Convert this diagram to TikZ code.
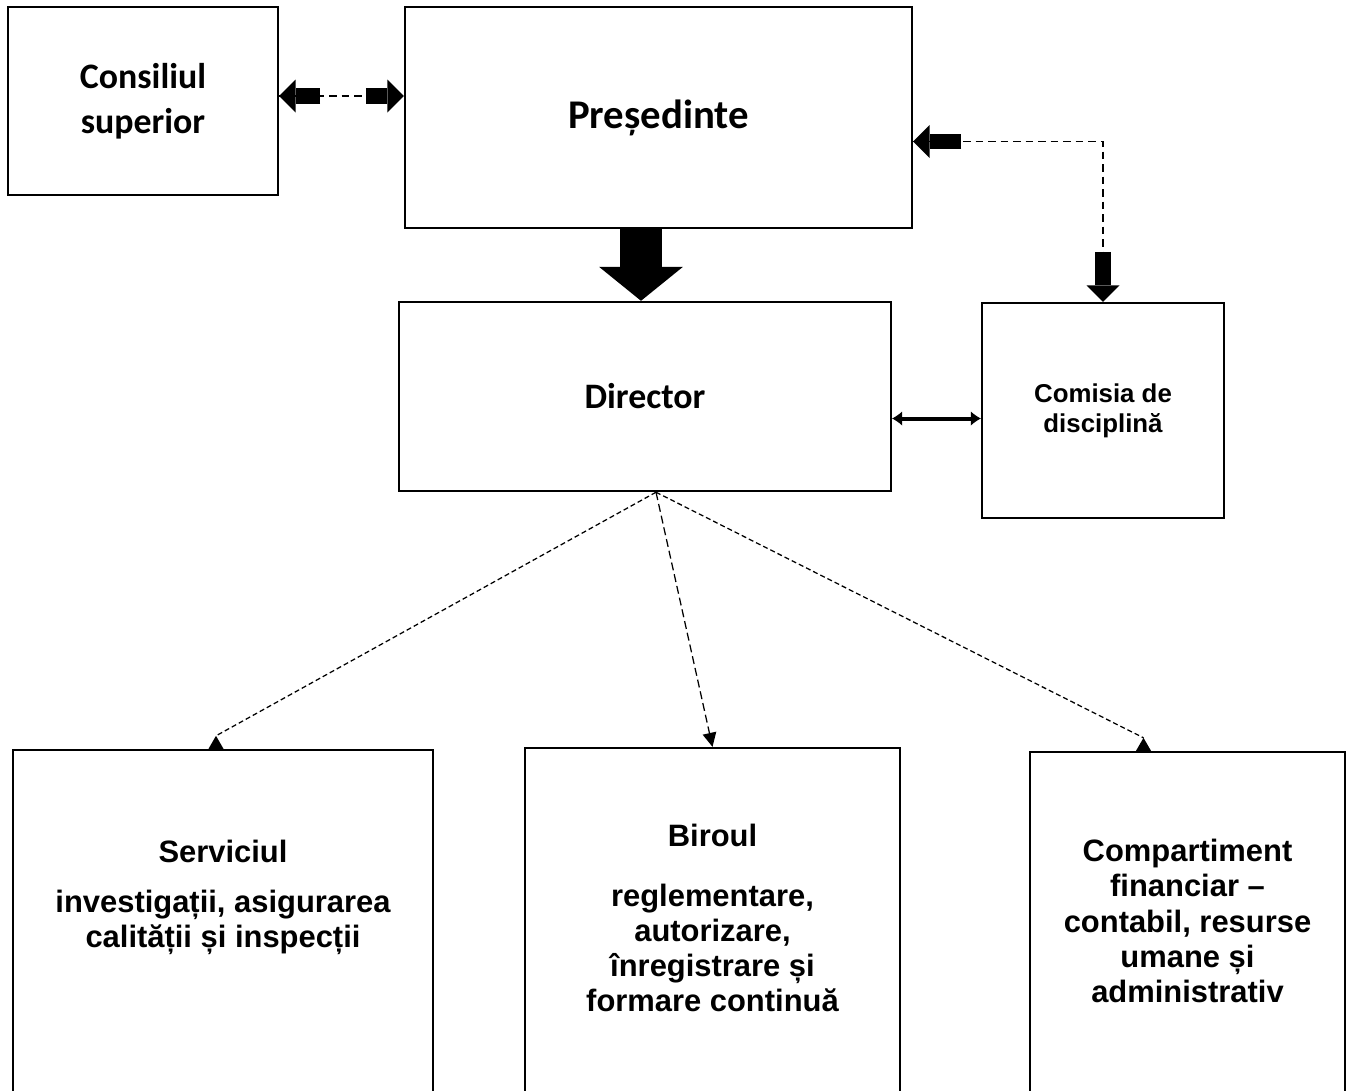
\documentclass[tikz,border=0pt]{standalone}
\usepackage{fontspec}
\setmainfont{Carlito}
\newfontfamily\arialfont{Liberation Sans}
\usetikzlibrary{arrows.meta}

\begin{document}
\begin{tikzpicture}[x=0.02cm, y=-0.02cm,
  box/.style={draw, line width=1.4pt, align=center},
  topfont/.style={font=\bfseries\fontsize{20.4}{25.5}\selectfont},
  subfont/.style={font=\arialfont\bfseries\fontsize{17.6}{20}\selectfont, align=center},
  blk/.style={line width=0.31cm, -{Triangle[width=0.66cm,length=0.33cm,line width=0pt]}},
  bigblk/.style={line width=0.84cm, -{Triangle[width=1.68cm,length=0.68cm,line width=0pt]}},
  topdash/.style={line width=0.035cm, dash pattern=on 0.15cm off 0.1cm},
  botdash/.style={line width=0.025cm, dash pattern=on 0.1cm off 0.06cm},
  uptip/.style={-{Triangle[reversed,width=0.3cm,length=0.26cm,line width=0pt]}},
  downtip/.style={-{Triangle[width=0.28cm,length=0.28cm,line width=0pt]}}]

\useasboundingbox (0,0) rectangle (1350,1090);
\clip (0,0) rectangle (1350,1090);

% top row
\node[box, topfont, minimum width=5.4cm, minimum height=3.76cm] (cons) at (143,101) {Consiliul\\superior};
\node[box, font=\bfseries\fontsize{23.2}{28}\selectfont, minimum width=10.14cm, minimum height=4.42cm] (pres) at (658.5,117.5) {Președinte};

% middle row
\node[box, topfont, minimum width=9.84cm, minimum height=3.78cm] (dir) at (645,396.5) {Director};
\node[box, font=\arialfont\bfseries\fontsize{14.7}{17}\selectfont, minimum width=4.84cm, minimum height=4.3cm] (com) at (1103,410.5) {Comisia de\\disciplină};

% bottom row, the boxes run off the page
\node[box, minimum width=8.4cm, minimum height=8cm] (serv) at (223,950) {};
\node[box, minimum width=7.5cm, minimum height=8cm] (bir) at (712.5,948) {};
\node[box, minimum width=6.3cm, minimum height=8cm] (comp) at (1187.5,952) {};
\node[subfont] (servtxt) at (223,897.5) {Serviciul\\[0.3cm]investigații, asigurarea\\calității și inspecții};
\node[subfont] (birtxt) at (712.5,918) {Biroul\\[0.5cm]reglementare,\\autorizare,\\înregistrare și\\formare continuă};
\node[subfont] (comptxt) at (1187.5,921) {Compartiment\\financiar –\\contabil, resurse\\umane și\\administrativ};

% consiliu <-> presedinte
\coordinate (ce) at ([yshift=0.1cm]cons.east);
\coordinate (pw) at (ce -| pres.west);
\draw[topdash] (ce) -- (pw);
\draw[blk] ([xshift=0.82cm]ce) -- (ce);
\draw[blk] ([xshift=-0.76cm]pw) -- (pw);

% presedinte <-> comisie
\coordinate (pe) at ([yshift=-0.48cm]pres.east);
\draw[topdash] (pe) -| (com.north);
\draw[blk] ([xshift=0.96cm]pe) -- (pe);
\draw[blk] ([yshift=1cm]com.north) -- (com.north);

% presedinte -> director
\coordinate (dtop) at ([xshift=-0.08cm]dir.north);
\draw[bigblk] (pres.south -| dtop) -- (dtop);

% director <-> comisie
\draw[line width=0.08cm, {Latex[length=0.2cm,width=0.28cm,line width=0pt]}-{Latex[length=0.2cm,width=0.28cm,line width=0pt]}] ([yshift=-0.44cm]dir.east) -- ([yshift=-0.44cm]dir.east -| com.west);

% director -> departamente
\coordinate (dbot) at ([xshift=0.22cm]dir.south);
\coordinate (servtop) at ([xshift=-0.14cm]serv.north);
\coordinate (comptop) at ([xshift=-0.88cm]comp.north);
\draw[botdash, uptip] (dbot) -- ([yshift=0.26cm]servtop) -- (servtop);
\draw[botdash, downtip, dash pattern=on 0.16cm off 0.08cm] (dbot) -- (bir.north);
\draw[botdash, uptip] (dbot) -- ([yshift=0.26cm]comptop) -- (comptop);
\end{tikzpicture}
\end{document}
